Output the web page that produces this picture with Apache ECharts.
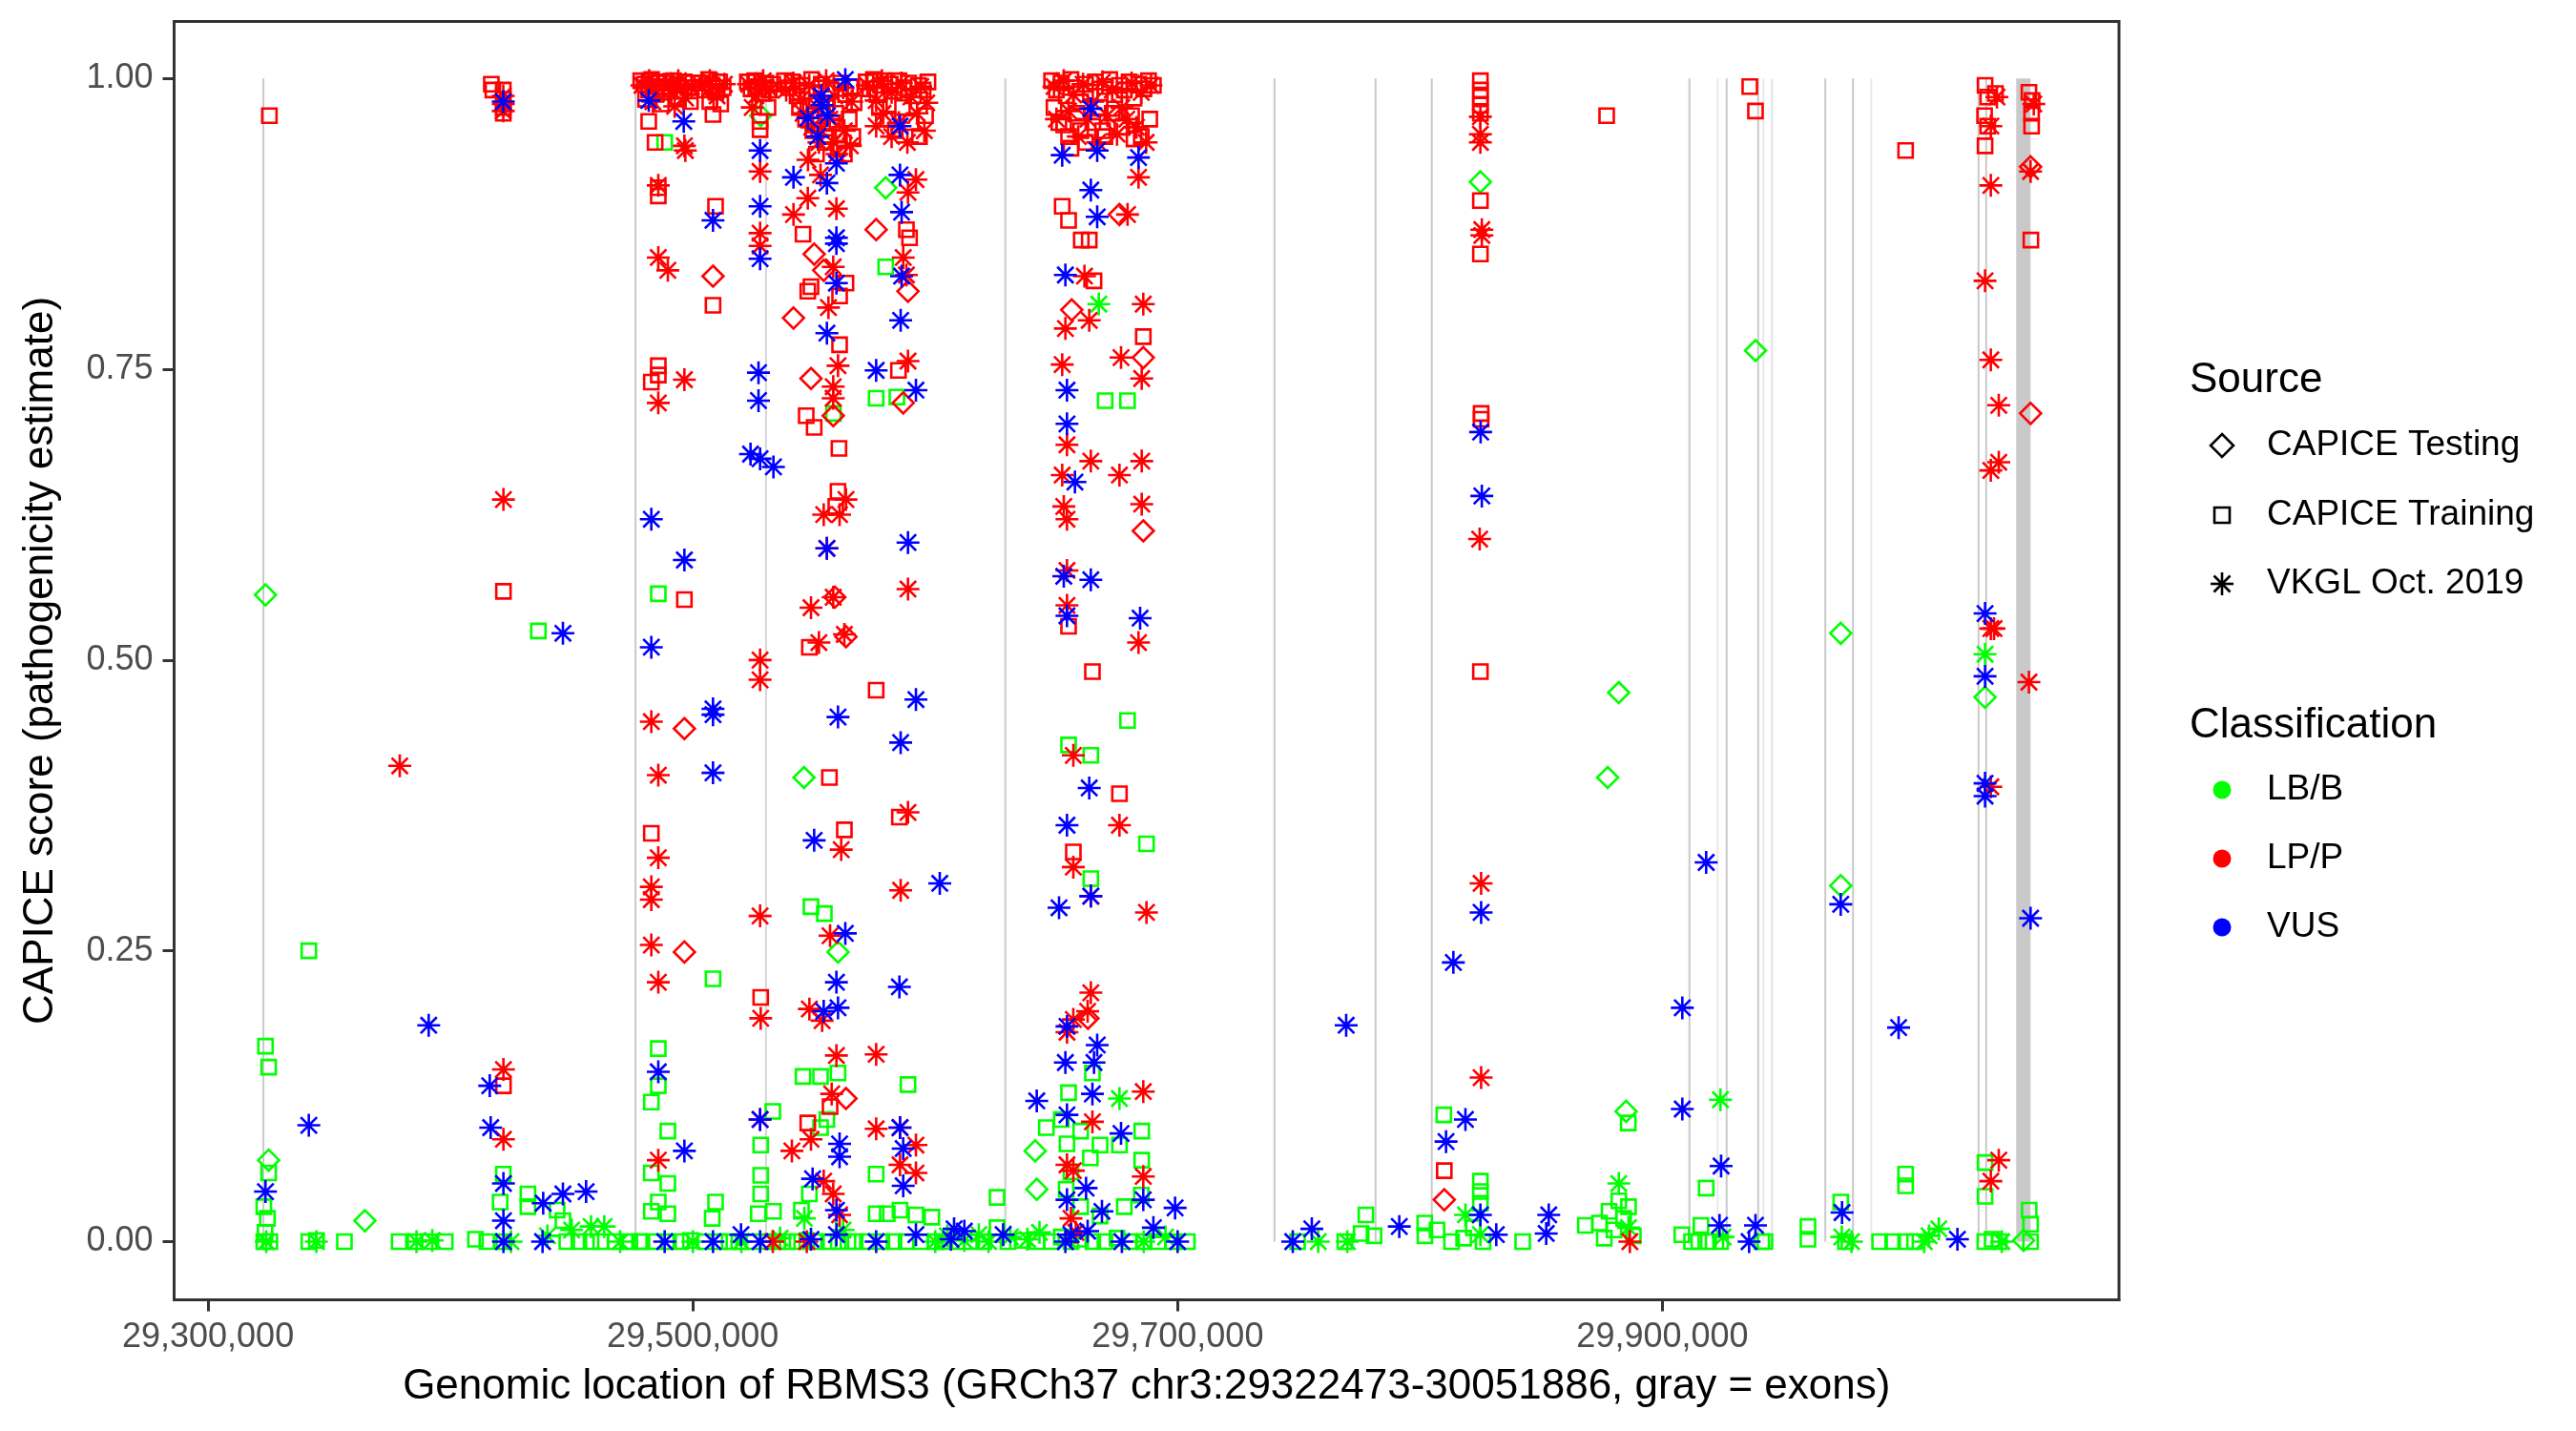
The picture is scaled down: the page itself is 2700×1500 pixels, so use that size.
<!DOCTYPE html>
<html>
<head>
<meta charset="utf-8">
<script src="https://cdn.jsdelivr.net/npm/echarts@6/dist/echarts.min.js"></script>
<style>
html,body{margin:0;padding:0;background:#fff;}
#chart{width:2700px;height:1500px;}
</style>
</head>
<body>
<div id="chart"></div>
<script>
// ---------------- DATA ----------------
const geneStart = 29322473;
const geneEnd = 30051886;
const xTicks = [29300000, 29500000, 29700000, 29900000];
const yTicks = [0, 0.25, 0.5, 0.75, 1];
const sourceNames = ['CAPICE Testing', 'CAPICE Training', 'VKGL Oct. 2019'];
const classNames = ['LB/B', 'LP/P', 'VUS'];

const exonStarts = [29322473, 29476000, 29529950, 29628600, 29739600, 29781300, 29804500, 29910800, 29922700, 29926150, 29939150, 29941600, 29945120, 29966850, 29978270, 29986080, 30030060, 30033210, 30045960];
const exonEnds   = [29323180, 29476700, 29530400, 29629200, 29740300, 29782000, 29805200, 29911500, 29922850, 29926850, 29939850, 29941750, 29945350, 29967550, 29978970, 29986230, 30030760, 30033910, 30051886];

// [position, CAPICE score]
const testingLB = [[29323700,0.556],[29325000,0.070],[29364700,0.018],[29528000,0.968],[29545850,0.399],[29559890,0.249],[29579570,0.906],[29641220,0.078],[29641880,0.045],[29824900,0.911],[29881970,0.472],[29877380,0.399],[29885000,0.112],[29938390,0.766],[29973560,0.523],[29973560,0.306],[30033100,0.468],[30049000,0.001]];
const testingLP = [[29496510,0.441],[29496510,0.249],[29508320,0.830],[29541520,0.794],[29550050,0.849],[29553990,0.835],[29548740,0.742],[29557920,0.710],[29558580,0.554],[29563170,0.520],[29563170,0.123],[29575630,0.870],[29588760,0.817],[29586790,0.721],[29656310,0.801],[29676000,0.883],[29685830,0.760],[29685830,0.611],[29663000,0.192],[29810000,0.036],[30051880,0.924],[30051880,0.712]];
const testingVUS = [];

const trainingLB = [[29323700,0.168],[29325000,0.150],[29325000,0.059],[29323000,0.030],[29324500,0.020],[29323500,0.008],[29323000,0.0],[29325500,0.0],[29341570,0.250],[29341570,0.0],[29344700,0.001],[29356260,0.0],[29378830,0.0],[29385390,0.0],[29391290,0.0],[29397850,0.0],[29410320,0.002],[29415000,0.0],[29421800,0.058],[29420500,0.034],[29422000,0.0],[29436290,0.525],[29431960,0.041],[29431960,0.030],[29444000,0.027],[29446400,0.018],[29448000,0.0],[29453000,0.0],[29458000,0.0],[29462000,0.0],[29468000,0.0],[29474000,0.0],[29478000,0.0],
[29488380,0.945],[29485750,0.557],[29485750,0.166],[29485750,0.134],[29482870,0.120],[29489690,0.095],[29482870,0.059],[29489690,0.050],[29485750,0.034],[29482870,0.026],[29489690,0.024],[29479000,0.0],[29484000,0.0],[29490000,0.0],[29495000,0.0],[29499000,0.001],
[29508320,0.226],[29509370,0.034],[29508000,0.020],[29505000,0.0],[29511000,0.0],[29515000,0.0],[29519000,0.0],
[29532990,0.112],[29528000,0.083],[29528000,0.057],[29528000,0.041],[29533250,0.026],[29527000,0.024],[29525000,0.0],[29531000,0.0],[29535000,0.0],
[29558000,0.712],[29548740,0.288],[29554250,0.282],[29545450,0.142],[29552680,0.142],[29559890,0.145],[29555300,0.105],[29552680,0.098],[29548080,0.041],[29544800,0.027],[29539000,0.0],[29543000,0.0],[29547000,0.001],[29551000,0.0],[29556000,0.0],[29560000,0.0],[29564000,0.0],[29567000,0.0],
[29579570,0.838],[29575630,0.725],[29584160,0.726],[29588760,0.135],[29575630,0.058],[29575630,0.024],[29580220,0.024],[29585470,0.027],[29592040,0.023],[29598600,0.021],[29572000,0.0],[29578000,0.0],[29583000,0.0],[29588000,0.0],[29594000,0.0],[29600000,0.0],[29604000,0.0],[29609000,0.0],
[29670100,0.723],[29679330,0.723],[29679330,0.448],[29655000,0.427],[29664190,0.418],[29687150,0.342],[29664190,0.312],[29655000,0.128],[29664840,0.145],[29645820,0.098],[29654350,0.084],[29685180,0.095],[29685180,0.070],[29625480,0.038],[29625480,0.012],[29615000,0.0],[29620000,0.0],[29630000,0.0],[29636000,0.001],[29642000,0.0],[29648000,0.0],[29652000,0.004],[29656000,0.0],[29660000,0.002],[29665000,0.0],[29670000,0.0],[29675000,0.003],[29680000,0.0],[29686000,0.0],[29692000,0.0],[29698000,0.0],[29704000,0.0],[29654000,0.045],[29660000,0.030],[29668000,0.022],[29678000,0.030],[29685000,0.040],[29656000,0.060],[29664000,0.072],[29652000,0.105],[29668000,0.083],[29676000,0.083],[29660000,0.095],
[29749460,0.0],[29769000,0.0],[29775700,0.007],[29777670,0.023],[29781000,0.005],[29801940,0.016],[29802000,0.005],[29809810,0.109],[29807000,0.010],[29813000,0.0],[29818000,0.003],[29822000,0.012],[29824900,0.052],[29824900,0.043],[29824900,0.033],[29826000,0.0],[29842350,0.0],[29868200,0.014],[29874000,0.016],[29876000,0.003],[29878000,0.026],[29880000,0.010],[29882000,0.035],[29884000,0.020],[29885900,0.102],[29886000,0.030],[29888000,0.005],[29908000,0.006],[29912000,0.0],[29915000,0.0],[29918050,0.046],[29919000,0.0],[29915900,0.014],[29924000,0.0],[29941000,0.0],
[29942300,0.0],[29960040,0.013],[29960040,0.002],[29973560,0.034],[29975500,0.0],[29989600,0.0],[29995000,0.0],[30000320,0.058],[30000320,0.048],[30000320,0.0],[30004000,0.0],[30033100,0.068],[30033100,0.039],[30033000,0.0],[30036000,0.002],[30039000,0.0],[30051300,0.027],[30051880,0.015],[30051880,0.0]];
const trainingLP = [[29325300,0.968],[29416870,0.995],[29417500,0.990],[29421800,0.990],[29421800,0.982],[29421800,0.975],[29421800,0.970],[29421860,0.559],[29421860,0.134],
[29478500,0.998],[29480000,0.995],[29481800,0.990],[29483000,0.999],[29484500,0.993],[29486000,0.997],[29487500,0.988],[29489000,0.996],[29490500,0.991],[29492000,0.998],[29493500,0.994],[29495000,0.989],[29496500,0.997],[29498000,0.992],[29500000,0.996],[29480500,0.982],[29487000,0.978],[29494000,0.983],[29499000,0.980],[29481800,0.963],[29484440,0.945],[29485750,0.906],[29485750,0.899],[29485750,0.753],[29485750,0.745],[29482870,0.739],[29496510,0.552],[29482870,0.351],
[29503500,0.996],[29505000,0.990],[29506500,0.999],[29508000,0.994],[29509500,0.988],[29511000,0.997],[29512500,0.992],[29507000,0.980],[29511500,0.978],[29508320,0.969],[29509370,0.890],[29508320,0.805],
[29522500,0.997],[29524000,0.991],[29525500,0.998],[29527000,0.993],[29528500,0.987],[29530000,0.996],[29531500,0.990],[29533000,0.995],[29531000,0.975],[29527740,0.963],[29527740,0.956],[29528000,0.210],
[29537800,0.998],[29539500,0.992],[29541000,0.997],[29543000,0.985],[29545000,0.994],[29547000,0.989],[29549000,0.999],[29551000,0.980],[29553000,0.995],[29555000,0.975],[29557000,0.990],[29559000,0.970],[29561000,0.996],[29563000,0.986],[29565000,0.993],[29566500,0.979],[29544000,0.975],[29546500,0.965],[29549500,0.955],[29552500,0.968],[29554500,0.945],[29557500,0.962],[29560500,0.952],[29562500,0.935],[29564500,0.965],[29566000,0.950],[29551000,0.935],[29550000,0.960],[29556000,0.950],[29560000,0.940],[29545450,0.866],[29547420,0.817],[29548740,0.821],[29560540,0.813],[29563170,0.824],[29560540,0.771],[29546770,0.710],[29550050,0.700],[29560280,0.682],[29559890,0.645],[29558970,0.632],[29548080,0.511],[29556350,0.399],[29562510,0.354],[29547420,0.102],[29556610,0.116],
[29571500,0.997],[29573000,0.991],[29574500,0.999],[29576000,0.986],[29577500,0.994],[29579000,0.998],[29581500,0.995],[29583000,0.989],[29585000,0.998],[29587000,0.992],[29589000,0.996],[29591000,0.985],[29593000,0.994],[29595000,0.990],[29597000,0.997],[29577000,0.975],[29580500,0.965],[29583500,0.955],[29586500,0.975],[29590000,0.962],[29593500,0.950],[29596000,0.968],[29588100,0.870],[29589410,0.863],[29584820,0.749],[29575630,0.474],[29585210,0.365],
[29648000,0.998],[29650000,0.990],[29652000,0.996],[29654000,0.985],[29656000,0.999],[29658000,0.992],[29660000,0.980],[29662000,0.995],[29664000,0.988],[29666000,0.997],[29668000,0.975],[29670000,0.993],[29672000,0.999],[29674000,0.986],[29676000,0.994],[29678000,0.990],[29680000,0.997],[29682000,0.983],[29684000,0.995],[29686000,0.991],[29688000,0.998],[29690000,0.994],[29649000,0.975],[29651000,0.962],[29655000,0.950],[29658500,0.970],[29662000,0.945],[29665000,0.962],[29669000,0.955],[29673000,0.970],[29677000,0.958],[29681000,0.968],[29685000,0.950],[29688500,0.965],[29653000,0.960],[29660000,0.955],[29670000,0.950],[29682000,0.948],[29656000,0.940],[29652380,0.890],[29655000,0.878],[29660250,0.861],[29663530,0.861],[29665500,0.826],[29685830,0.778],[29655000,0.529],[29664840,0.490],[29676000,0.385],[29656970,0.335],
[29810000,0.061],[29824900,0.998],[29824900,0.990],[29824900,0.984],[29824900,0.977],[29824900,0.970],[29824900,0.895],[29824900,0.849],[29825200,0.712],[29825200,0.707],[29824900,0.490],[29876990,0.968],[29936030,0.993],[29938390,0.972],
[30000320,0.938],[30033100,0.994],[30034200,0.984],[30037400,0.987],[30032900,0.968],[30034200,0.959],[30033100,0.942],[30051200,0.988],[30052500,0.981],[30052300,0.970],[30052300,0.959],[30052000,0.861]];
const trainingVUS = [];

const vkglLB = [[29324000,0.0],[29344700,0.0],[29386000,0.0],[29392500,0.001],[29425000,0.0],[29440000,0.005],[29450000,0.010],[29458000,0.013],[29463450,0.013],[29470000,0.0],[29500000,0.0],[29520000,0.0],[29536000,0.003],[29546000,0.020],[29562000,0.010],[29600000,0.0],[29605000,0.005],[29612000,0.001],[29618000,0.006],[29622000,0.0],[29631000,0.004],[29638000,0.002],[29643000,0.008],[29667470,0.806],[29676000,0.123],[29686000,0.0],[29695000,0.004],[29758000,0.0],[29770000,0.0],[29818730,0.023],[29824900,0.006],[29882000,0.050],[29886000,0.012],[29923950,0.122],[29925000,0.004],[29974000,0.004],[29978000,0.0],[30010000,0.005],[30014000,0.011],[30008000,0.0],[30033100,0.505],[30040000,0.0]];
const vkglLP = [[29379090,0.409],[29421800,0.985],[29421800,0.978],[29421800,0.972],[29421860,0.638],[29421860,0.148],[29421860,0.088],
[29479000,0.994],[29482000,0.998],[29485000,0.987],[29488000,0.995],[29491000,0.990],[29494000,0.998],[29497000,0.983],[29499500,0.993],[29483500,0.980],[29492500,0.976],[29496510,0.942],[29496910,0.938],[29485750,0.908],[29485750,0.846],[29489690,0.835],[29485750,0.721],[29496510,0.741],[29482870,0.447],[29485750,0.401],[29485750,0.330],[29482870,0.305],[29482870,0.294],[29482870,0.255],[29485750,0.223],[29485750,0.070],
[29504000,0.993],[29507000,0.998],[29510000,0.985],[29513000,0.995],
[29523000,0.995],[29526000,0.985],[29529000,0.998],[29532000,0.990],[29524500,0.975],[29527740,0.920],[29527740,0.867],[29527740,0.856],[29527740,0.500],[29527740,0.483],[29527740,0.280],[29528000,0.192],[29527740,0.105],[29532990,0.0],
[29538500,0.990],[29541500,0.996],[29544500,0.982],[29548000,0.994],[29551500,0.975],[29555000,0.998],[29558500,0.985],[29562000,0.992],[29565500,0.980],[29545500,0.970],[29549000,0.958],[29552000,0.945],[29556500,0.965],[29559500,0.935],[29562500,0.955],[29565000,0.942],[29547500,0.930],[29553000,0.955],[29558000,0.945],[29541520,0.883],[29547420,0.897],[29552680,0.917],[29559230,0.888],[29557920,0.838],[29555950,0.803],[29559890,0.753],[29557920,0.735],[29557920,0.725],[29553990,0.625],[29560540,0.625],[29563170,0.638],[29555300,0.596],[29548740,0.545],[29557920,0.554],[29552020,0.515],[29562510,0.522],[29561200,0.337],[29556610,0.263],[29548080,0.200],[29553330,0.190],[29559230,0.160],[29557270,0.127],[29540860,0.078],[29548740,0.088],[29553990,0.052],[29557920,0.041],[29560540,0.023],[29547000,0.0],
[29572000,0.994],[29575630,0.981],[29575630,0.959],[29578000,0.998],[29582000,0.988],[29586000,0.996],[29590000,0.984],[29594000,0.993],[29596500,0.979],[29578500,0.970],[29582000,0.950],[29585000,0.962],[29588500,0.945],[29592500,0.970],[29595500,0.955],[29592040,0.913],[29588760,0.902],[29586790,0.846],[29588100,0.831],[29588760,0.757],[29588760,0.561],[29588760,0.369],[29585740,0.302],[29575630,0.161],[29575630,0.097],[29585470,0.098],[29592040,0.083],[29585470,0.066],[29592040,0.059],
[29649000,0.993],[29653000,0.998],[29657000,0.986],[29661000,0.995],[29665000,0.980],[29669000,0.997],[29673000,0.990],[29677000,0.975],[29681000,0.996],[29685000,0.988],[29689000,0.994],[29650000,0.965],[29655000,0.972],[29659000,0.950],[29663000,0.965],[29667000,0.945],[29671000,0.968],[29675000,0.952],[29679000,0.965],[29683000,0.958],[29687000,0.945],[29683870,0.915],[29679330,0.883],[29661560,0.830],[29685830,0.806],[29653690,0.785],[29663530,0.792],[29652380,0.754],[29676650,0.760],[29685180,0.742],[29654350,0.685],[29664190,0.671],[29685180,0.671],[29652380,0.659],[29676000,0.659],[29653030,0.632],[29654350,0.621],[29685180,0.634],[29654350,0.577],[29654350,0.547],[29683870,0.515],[29656970,0.418],[29676000,0.358],[29656970,0.322],[29664190,0.297],[29687150,0.283],[29664190,0.214],[29662870,0.198],[29656970,0.191],[29654350,0.180],[29685830,0.129],[29664840,0.103],[29654350,0.066],[29656970,0.061],[29685830,0.056],[29656000,0.020],[29658000,0.008],
[29824900,0.967],[29824900,0.952],[29824900,0.945],[29825500,0.870],[29825500,0.865],[29824600,0.604],[29825200,0.308],[29825200,0.141],[29886560,0.0],
[30038000,0.984],[30035480,0.959],[30035480,0.908],[30033100,0.826],[30035480,0.758],[30038760,0.719],[30038760,0.670],[30035480,0.663],[30035480,0.527],[30036800,0.527],[30035480,0.391],[30038760,0.070],[30035480,0.052],[30053200,0.978],[30051880,0.920],[30051200,0.481]];
const vkglVUS = [[29323700,0.043],[29341570,0.100],[29391030,0.186],[29416220,0.134],[29416600,0.098],[29421800,0.980],[29421860,0.050],[29421860,0.018],[29421860,0.0],[29446400,0.523],[29438260,0.033],[29446400,0.041],[29455970,0.043],[29438000,0.0],
[29481820,0.981],[29496250,0.963],[29482870,0.621],[29496510,0.586],[29482870,0.511],[29485750,0.146],[29496510,0.078],[29488380,0.0],
[29508320,0.878],[29508320,0.458],[29508320,0.453],[29508320,0.403],[29508320,0.0],
[29527740,0.938],[29527740,0.890],[29527740,0.845],[29527090,0.747],[29527090,0.723],[29523800,0.677],[29527740,0.673],[29533250,0.666],[29527740,0.105],[29519870,0.006],[29527740,0.0],
[29562900,0.999],[29553000,0.985],[29555500,0.968],[29551500,0.950],[29547420,0.966],[29553330,0.977],[29559230,0.927],[29541520,0.915],[29555300,0.910],[29559230,0.863],[29559230,0.858],[29559230,0.824],[29555300,0.781],[29555300,0.596],[29559890,0.451],[29550050,0.345],[29562900,0.265],[29559230,0.223],[29553990,0.198],[29559890,0.201],[29560540,0.084],[29560540,0.073],[29549400,0.054],[29559230,0.027],[29548740,0.002],[29559230,0.006],
[29585470,0.959],[29585470,0.917],[29586130,0.885],[29586130,0.830],[29585740,0.792],[29575630,0.749],[29592040,0.732],[29588760,0.601],[29592040,0.466],[29585740,0.429],[29601870,0.308],[29585210,0.219],[29585470,0.098],[29586790,0.080],[29586790,0.048],[29575630,0.0],[29592040,0.006],[29606460,0.002],[29607770,0.011],
[29664190,0.974],[29652380,0.934],[29666810,0.938],[29683870,0.932],[29664190,0.904],[29666810,0.881],[29653690,0.831],[29654350,0.732],[29654350,0.703],[29657630,0.653],[29653030,0.572],[29664190,0.569],[29654350,0.538],[29684520,0.536],[29663530,0.390],[29654350,0.358],[29651070,0.287],[29664190,0.297],[29654350,0.185],[29666810,0.169],[29653690,0.154],[29665500,0.154],[29664840,0.127],[29641880,0.121],[29654350,0.109],[29676650,0.093],[29662220,0.046],[29685830,0.036],[29698950,0.029],[29668780,0.026],[29654350,0.036],[29656000,0.006],[29612000,0.009],[29628000,0.006],[29653690,0.0],[29662870,0.009],[29677000,0.0],[29690000,0.012],[29700000,0.0],
[29747500,0.0],[29755360,0.011],[29769530,0.186],[29791440,0.013],[29810730,0.086],[29818730,0.105],[29813750,0.240],[29825000,0.696],[29825500,0.641],[29825200,0.283],[29824900,0.023],[29831460,0.006],[29853100,0.023],[29852060,0.007],[29908210,0.201],[29908210,0.114],[29918050,0.326],[29924200,0.065],[29923560,0.014],[29938390,0.014],[29935760,0.0],
[29973560,0.290],[29974100,0.025],[29997440,0.184],[30021700,0.002],[30033100,0.540],[30033100,0.486],[30033100,0.394],[30033100,0.383],[30051880,0.278]];

// ---------------- CHART ----------------
const FONT = 'Liberation Sans, Arial, Helvetica, sans-serif';
const COLORS = {'LB/B': '#00FF00', 'LP/P': '#FF0000', 'VUS': '#0000FF'};
const ASTERISK = 'path://M10,0L10,20M0,10L20,10M2.929,2.929L17.071,17.071M2.929,17.071L17.071,2.929';
const SHAPES = {
  'CAPICE Testing': {symbol: 'diamond', size: 22, bw: 2.6},
  'CAPICE Training': {symbol: 'rect', size: 15, bw: 2.6},
  'VKGL Oct. 2019': {symbol: ASTERISK, size: 24, bw: 2.6}
};
const seriesData = {
  'CAPICE Testing': {'LB/B': testingLB, 'LP/P': testingLP, 'VUS': testingVUS},
  'CAPICE Training': {'LB/B': trainingLB, 'LP/P': trainingLP, 'VUS': trainingVUS},
  'VKGL Oct. 2019': {'LB/B': vkglLB, 'LP/P': vkglLP, 'VUS': vkglVUS}
};

const xRange = geneEnd - geneStart;
const xMin = geneStart - 0.05 * xRange;
const xMax = geneEnd + 0.05 * xRange;
let yDataMax = 0;
sourceNames.forEach(s => classNames.forEach(c => seriesData[s][c].forEach(p => { if (p[1] > yDataMax) yDataMax = p[1]; })));
const yMin = -0.05 * yDataMax;
const yMax = yDataMax + 0.05 * yDataMax;

const exonData = exonStarts.map((s, i) => [s, exonEnds[i]]);

const series = [{
  type: 'custom',
  name: 'exons',
  z: 1,
  silent: true,
  data: exonData,
  encode: {x: [0, 1]},
  renderItem: function (params, api) {
    const p0 = api.coord([api.value(0), 1]);
    const p1 = api.coord([api.value(1), 0]);
    const w = p1[0] - p0[0];
    const dw = Math.max(w, 2);
    const op = Math.min(1, 0.25 + w * 0.45);
    return {
      type: 'rect',
      shape: {x: p0[0] - (dw - w) / 2, y: p0[1], width: dw, height: p1[1] - p0[1]},
      style: {fill: '#C9C9C9', opacity: op}
    };
  }
}];

classNames.forEach(c => {
  sourceNames.forEach(s => {
    const sh = SHAPES[s];
    series.push({
      type: 'scatter',
      name: s + ' ' + c,
      z: 3,
      data: seriesData[s][c],
      symbol: sh.symbol,
      symbolSize: sh.size,
      symbolKeepAspect: true,
      itemStyle: {color: 'rgba(0,0,0,0)', borderColor: COLORS[c], borderWidth: sh.bw, opacity: 1},
      emphasis: {disabled: true},
      animation: false
    });
  });
});

// legend drawn as graphic elements
const LX = 2329, TX = 2376, TITLE_X = 2295;
const srcY = [467, 540, 612];
const clsY = [828, 900, 972];
const graphic = [
  {type: 'text', x: TITLE_X, y: 399, style: {text: 'Source', font: '44px ' + FONT, fill: '#000', verticalAlign: 'middle'}},
  {type: 'text', x: TITLE_X, y: 761, style: {text: 'Classification', font: '44px ' + FONT, fill: '#000', verticalAlign: 'middle'}},
  {type: 'polygon', shape: {points: [[LX, srcY[0]-12], [LX+12, srcY[0]], [LX, srcY[0]+12], [LX-12, srcY[0]]]}, style: {fill: 'none', stroke: '#000', lineWidth: 2.6}},
  {type: 'rect', shape: {x: LX-8, y: srcY[1]-8, width: 16, height: 16}, style: {fill: 'none', stroke: '#000', lineWidth: 2.6}},
  {type: 'line', shape: {x1: LX, y1: srcY[2]-12, x2: LX, y2: srcY[2]+12}, style: {stroke: '#000', lineWidth: 2.6}},
  {type: 'line', shape: {x1: LX-12, y1: srcY[2], x2: LX+12, y2: srcY[2]}, style: {stroke: '#000', lineWidth: 2.6}},
  {type: 'line', shape: {x1: LX-8.5, y1: srcY[2]-8.5, x2: LX+8.5, y2: srcY[2]+8.5}, style: {stroke: '#000', lineWidth: 2.6}},
  {type: 'line', shape: {x1: LX-8.5, y1: srcY[2]+8.5, x2: LX+8.5, y2: srcY[2]-8.5}, style: {stroke: '#000', lineWidth: 2.6}}
];
sourceNames.forEach((s, i) => {
  graphic.push({type: 'text', x: TX, y: srcY[i], style: {text: s, font: '37px ' + FONT, fill: '#000', verticalAlign: 'middle'}});
});
classNames.forEach((c, i) => {
  graphic.push({type: 'circle', shape: {cx: LX, cy: clsY[i], r: 9.5}, style: {fill: COLORS[c]}});
  graphic.push({type: 'text', x: TX, y: clsY[i], style: {text: c, font: '37px ' + FONT, fill: '#000', verticalAlign: 'middle'}});
});

const chart = echarts.init(document.getElementById('chart'), null, {renderer: 'canvas'});
chart.setOption({
  backgroundColor: '#ffffff',
  animation: false,
  textStyle: {fontFamily: FONT},
  grid: {left: 182.5, right: 479, top: 22.5, bottom: 137.6, show: true, borderColor: '#333333', borderWidth: 3, backgroundColor: '#ffffff'},
  xAxis: {
    type: 'value', min: xMin, max: xMax,
    splitLine: {show: false},
    axisLine: {show: true, onZero: false, lineStyle: {color: '#333333', width: 3}},
    axisTick: {show: true, length: 12, lineStyle: {color: '#333333', width: 3}, customValues: xTicks},
    axisLabel: {customValues: xTicks, formatter: v => Math.round(v).toLocaleString('en-US'), color: '#4D4D4D', fontSize: 36, fontFamily: FONT, margin: 22},
    name: 'Genomic location of RBMS3 (GRCh37 chr3:29322473-30051886, gray = exons)',
    nameLocation: 'middle', nameGap: 69,
    nameTextStyle: {fontSize: 44, color: '#000000', fontFamily: FONT}
  },
  yAxis: {
    type: 'value', min: yMin, max: yMax,
    splitLine: {show: false},
    axisLine: {show: true, onZero: false, lineStyle: {color: '#333333', width: 3}},
    axisTick: {show: true, length: 12, lineStyle: {color: '#333333', width: 3}, customValues: yTicks},
    axisLabel: {customValues: yTicks, formatter: v => v.toFixed(2), color: '#4D4D4D', fontSize: 36, fontFamily: FONT, margin: 22},
    name: 'CAPICE score (pathogenicity estimate)',
    nameLocation: 'middle', nameGap: 118, nameRotate: 90,
    nameTextStyle: {fontSize: 44, color: '#000000', fontFamily: FONT}
  },
  series: series,
  graphic: graphic
});
</script>
</body>
</html>
